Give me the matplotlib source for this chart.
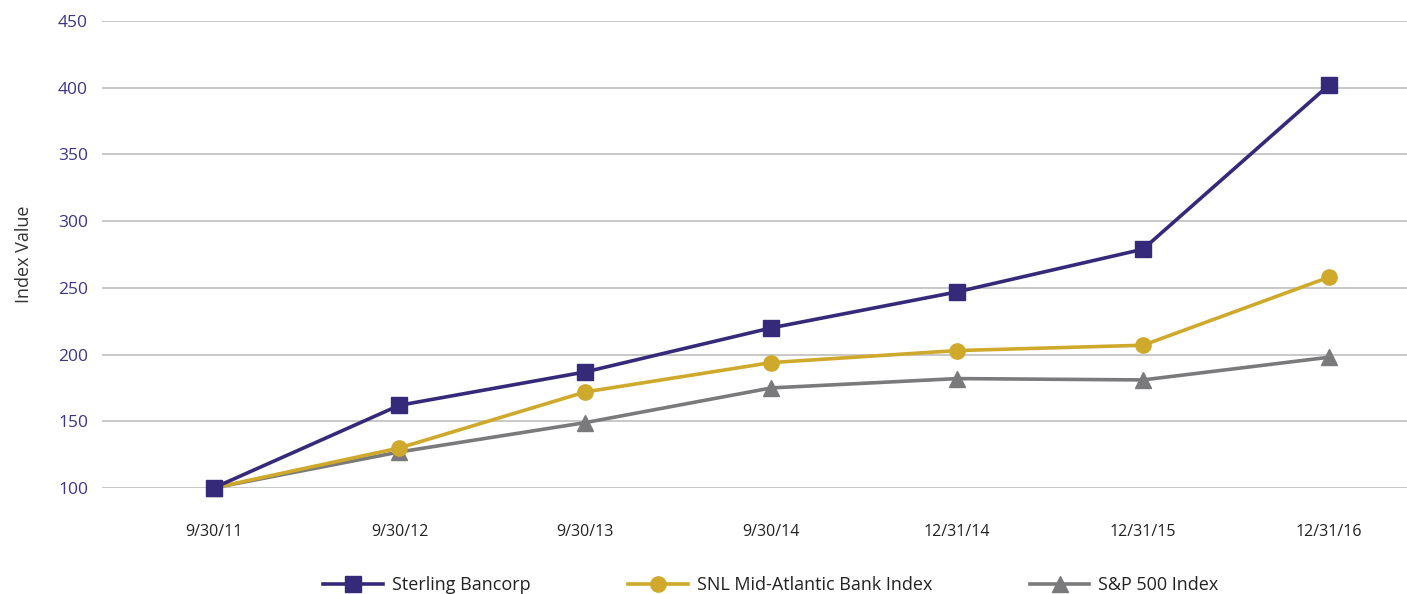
import matplotlib.pyplot as plt
import numpy as np

dates = ["9/30/11", "9/30/12", "9/30/13", "9/30/14", "12/31/14", "12/31/15", "12/31/16"]
sterling = [100, 162, 187, 220, 247, 279, 402]
snl = [100, 130, 172, 194, 203, 207, 258]
sp500 = [100, 127, 149, 175, 182, 181, 198]

font = "Open Sans"
purple = "#352a7a"
gold = "#cfa92b"
grey = "#7a7a7c"

fig = plt.figure(figsize=(14.07, 5.94), dpi=100)
ax = fig.add_axes([0.0725, 0.1785, 0.9275, 0.786])

x = np.arange(len(dates))
ax.plot(x, sp500, "-^", c=grey, lw=2.6, ms=11, label="S&P 500 Index", clip_on=False, zorder=3)
ax.plot(x, snl, "-o", c=gold, lw=2.6, ms=11, label="SNL Mid-Atlantic Bank Index", clip_on=False, zorder=4)
ax.plot(x, sterling, "-s", c=purple, lw=2.6, ms=11.5, label="Sterling Bancorp", clip_on=False, zorder=5)

ax.set_xlim(-0.6, 6.42)
ax.set_ylim(100, 450)
ax.set_yticks(np.arange(100, 451, 50))
ax.set_xticks(x)
ax.set_xticklabels(dates, fontname=font, fontsize=11.5, color="#222222")
ax.set_yticklabels([str(v) for v in range(100, 451, 50)], fontname=font, fontsize=12.5, color="#3d3585")
ax.tick_params(axis="x", length=0, pad=26)
ax.tick_params(axis="y", length=0, pad=10)
ax.grid(axis="y", color="#c4c4c4", lw=1.3)
ax.set_axisbelow(True)
for s in ax.spines.values():
    s.set_visible(False)

ax.set_ylabel("Index Value", fontname=font, fontsize=13, color="#333333", labelpad=18)

h, l = ax.get_legend_handles_labels()
leg = fig.legend(h[::-1], l[::-1], loc="center", bbox_to_anchor=(0.548, 1 - 585 / 594), ncol=3,
                 frameon=False, handlelength=3.3, columnspacing=5.4, handletextpad=0.5,
                 prop={"family": font, "size": 13})
plt.setp(leg.texts, color="#222222")

fig.savefig("out.png", dpi=100)
